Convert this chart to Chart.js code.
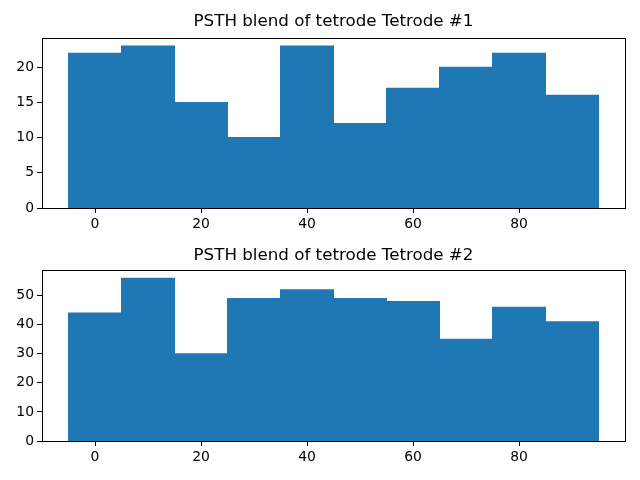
<!DOCTYPE html>
<html>
<head>
<meta charset="utf-8">
<script src="https://cdn.jsdelivr.net/npm/chart.js@4"></script>
<style>
   html, body { margin: 0; padding: 0; background: #fff; }
   .wrap { position: absolute; left: 0; width: 640px; height: 240px; }
</style>
</head>
<body>
<div class="wrap" style="top:0"><canvas id="graf1" width="640" height="240"></canvas></div>
<div class="wrap" style="top:240px"><canvas id="graf2" width="640" height="240"></canvas></div>
<script>
const binCenters = [0, 10, 20, 30, 40, 50, 60, 70, 80, 90];
const tetrode1 = [22, 23, 15, 10, 23, 12, 17, 20, 22, 16];
const tetrode2 = [44, 56, 30, 49, 52, 49, 48, 35, 46, 41];
const xTicks = [0, 20, 40, 60, 80];
const yTicks1 = [0, 5, 10, 15, 20];
const yTicks2 = [0, 10, 20, 30, 40, 50];

const font = { family: 'DejaVu Sans', size: 13.9 };

// marco completo + titulo centrado sobre el area (estilo matplotlib)
const marco = {
   id: 'marco',
   afterDraw(chart, args, opts) {
      const a = chart.chartArea, c = chart.ctx;
      c.save();
      c.strokeStyle = '#000';
      c.lineWidth = 1;
      c.strokeRect(Math.round(a.left) + 0.5, Math.round(a.top) + 0.5,
         Math.round(a.right - a.left), Math.round(a.bottom - a.top));
      c.fillStyle = '#000';
      c.font = '16.7px "DejaVu Sans"';
      c.textAlign = 'center';
      c.textBaseline = 'middle';
      c.fillText(opts.texto, (a.left + a.right) / 2, opts.y);
      c.restore();
   }
};

function crearGrafica(id, titulo, valores, yTicks, yMax, top, tituloY, xHeight) {
   return new Chart(document.getElementById(id).getContext('2d'), {
      type: 'bar',
      data: {
         datasets: [{
            data: binCenters.map((x, i) => ({ x: x, y: valores[i] })),
            backgroundColor: '#1f77b4',
            borderWidth: 0,
            inflateAmount: 0.5,
            barPercentage: 1,
            categoryPercentage: 1
         }]
      },
      options: {
         responsive: false,
         animation: false,
         layout: { padding: { left: 0, right: 15, top: top, bottom: 0 } },
         plugins: {
            legend: { display: false },
            tooltip: { enabled: false },
            title: { display: false },
            marco: { texto: titulo, y: tituloY }
         },
         scales: {
            x: {
               type: 'linear',
               min: -10,
               max: 100,
               offset: false,
               afterBuildTicks: ax => { ax.ticks = xTicks.map(v => ({ value: v })); },
               afterFit: ax => { ax.height = xHeight; },
               grid: { offset: false, drawOnChartArea: false, drawTicks: true, tickLength: 5, color: '#000' },
               border: { display: true, color: '#000' },
               ticks: { color: '#000', font: font, padding: 3, maxRotation: 0, autoSkip: false }
            },
            y: {
               min: 0,
               max: yMax,
               afterBuildTicks: ax => { ax.ticks = yTicks.map(v => ({ value: v })); },
               afterFit: ax => { ax.width = 42; },
               grid: { drawOnChartArea: false, drawTicks: true, tickLength: 5, color: '#000' },
               border: { display: true, color: '#000' },
               ticks: { color: '#000', font: font, padding: 3 }
            }
         }
      },
      plugins: [marco]
   });
}

crearGrafica('graf1', 'PSTH blend of tetrode Tetrode #1', tetrode1, yTicks1, 24.15, 38, 22, 32);
crearGrafica('graf2', 'PSTH blend of tetrode Tetrode #2', tetrode2, yTicks2, 58.8, 30, 16, 39);
</script>
</body>
</html>
